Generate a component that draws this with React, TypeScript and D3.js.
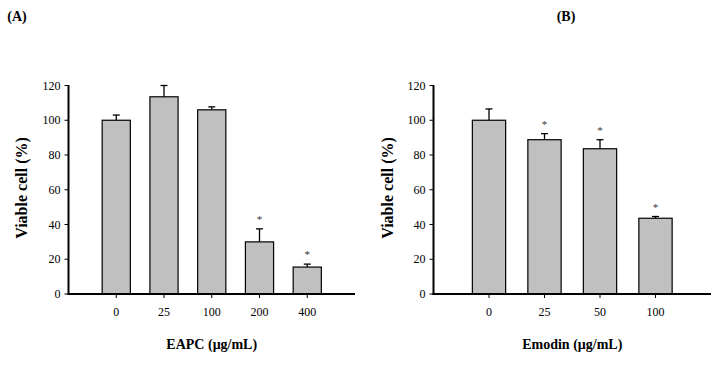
import * as d3 from "d3";

// Panel A: EAPC
const eapcDoses = ["0", "25", "100", "200", "400"];
const eapcMeans = [100, 113.5, 106, 30, 15.5];
const eapcErrors = [3, 6.5, 1.7, 7.5, 1.7];
const eapcSig = [false, false, false, true, true];

// Panel B: Emodin
const emodinDoses = ["0", "25", "50", "100"];
const emodinMeans = [100, 88.8, 83.6, 43.6];
const emodinErrors = [6.5, 3.5, 5.2, 1];
const emodinSig = [false, true, true, true];

const yTicks = [0, 20, 40, 60, 80, 100, 120];

const font = "'Liberation Serif', 'Times New Roman', serif";

type PanelProps = {
  label: string;
  labelX: number;
  xTitle: string;
  doses: string[];
  means: number[];
  errors: number[];
  sig: boolean[];
  left: number;
  right: number;
  barFrac: number;
  yTitleX: number;
};

function Panel({ label, labelX, xTitle, doses, means, errors, sig, left, right, barFrac, yTitleX }: PanelProps) {
  const y = d3.scaleLinear().domain([0, 120]).range([294, 85.5]);
  // one empty step on each side of the bars
  const x = d3.scalePoint<string>()
    .domain(["", ...doses, " "])
    .range([left, right]);
  const step = x.step();
  const bw = step * barFrac;

  return (
    <g fontFamily={font}>
      <text x={labelX} y={20.5} fontSize={14} fontWeight="bold" textAnchor="middle">{label}</text>

      {doses.map((d, i) => {
        const cx = x(d)!;
        const top = y(means[i]);
        const errTop = y(means[i] + errors[i]);
        return (
          <g key={d}>
            <line x1={cx} x2={cx} y1={top} y2={errTop} stroke="#000" strokeWidth={1.3} />
            <line x1={cx - 3.5} x2={cx + 3.5} y1={errTop} y2={errTop} stroke="#000" strokeWidth={1.3} />
            <rect x={cx - bw / 2} y={top} width={bw} height={y(0) - top}
              fill="#c0c0c0" stroke="#000" strokeWidth={1.2} />
            {sig[i] && (
              <text x={cx} y={errTop - 6} fontSize={11} textAnchor="middle" fill="#333">*</text>
            )}
            <line x1={cx} x2={cx} y1={y(0)} y2={y(0) + 4} stroke="#000" strokeWidth={1} />
            <text x={cx} y={316} fontSize={12} textAnchor="middle">{d}</text>
          </g>
        );
      })}

      {/* y axis */}
      <line x1={left} x2={left} y1={y(120) - 0.5} y2={y(0) + 1} stroke="#000" strokeWidth={2} />
      {yTicks.map((t) => (
        <g key={t}>
          <line x1={left - 4} x2={left} y1={y(t)} y2={y(t)} stroke="#000" strokeWidth={1} />
          <text x={left - 8} y={y(t) + 4} fontSize={12} textAnchor="end">{t}</text>
        </g>
      ))}
      {/* x axis */}
      <line x1={left - 1} x2={right} y1={y(0)} y2={y(0)} stroke="#000" strokeWidth={2} />

      <text x={(x(doses[0])! + x(doses[doses.length - 1])!) / 2} y={349} fontSize={14}
        fontWeight="bold" textAnchor="middle">{xTitle}</text>
      <text transform={`translate(${yTitleX},188) rotate(-90)`} fontSize={16}
        fontWeight="bold" textAnchor="middle">Viable cell (%)</text>
    </g>
  );
}

export default function App() {
  return (
    <svg width={728} height={367} style={{ position: "absolute", left: 0, top: 0, background: "#fff" }}>
      <Panel label="(A)" labelX={17} xTitle="EAPC (μg/mL)" doses={eapcDoses} means={eapcMeans}
        errors={eapcErrors} sig={eapcSig} left={68.5} right={355} barFrac={0.59} yTitleX={27} />
      <Panel label="(B)" labelX={566} xTitle="Emodin (μg/mL)" doses={emodinDoses} means={emodinMeans}
        errors={emodinErrors} sig={emodinSig} left={433.5} right={711} barFrac={0.6} yTitleX={392.5} />
    </svg>
  );
}
